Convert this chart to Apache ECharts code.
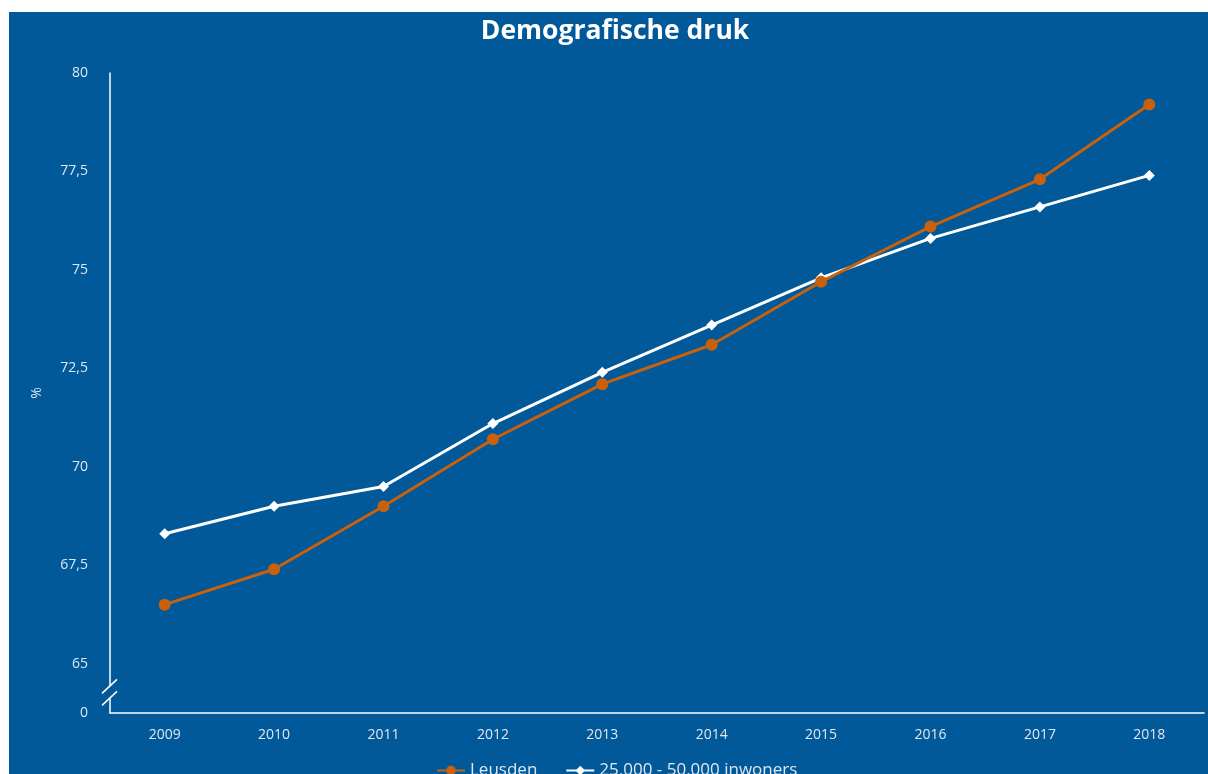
<!DOCTYPE html>
<html><head><meta charset="utf-8">
<script src="https://cdn.jsdelivr.net/npm/echarts@6/dist/echarts.min.js"></script>
<style>
html,body{margin:0;padding:0;background:#fff;width:1208px;height:774px;overflow:hidden;}
#c{position:absolute;left:9px;top:12px;width:1199px;height:762px;}
</style></head><body>
<div id="c"></div>
<script>
var years = ['2009','2010','2011','2012','2013','2014','2015','2016','2017','2018'];
var leusden = [66.5, 67.4, 69.0, 70.7, 72.1, 73.1, 74.7, 76.1, 77.3, 79.2];
var gemeenten = [68.3, 69.0, 69.5, 71.1, 72.4, 73.6, 74.8, 75.8, 76.6, 77.4];
var seriesNames = ['Leusden', '25.000 - 50.000 inwoners'];
var yMin = 63.75, yMax = 80, yStep = 1.25, breakValue = 64.4;

var bg = '#01599a', labelColor = '#dfe7f0', orange = '#c8600c';
var chart = echarts.init(document.getElementById('c'));
var font = "'Open Sans', sans-serif";
chart.setOption({
  backgroundColor: bg,
  textStyle: {fontFamily: font},
  title: {text: 'Demografische druk', left: 601, textAlign: 'center', top: 1,
    textStyle: {color: '#fff', fontSize: 26.5, fontWeight: 'bold', fontFamily: font}},
  legend: {bottom: -10, left: 422, itemGap: 28, itemWidth: 28, itemHeight: 12,
    textStyle: {color: labelColor, fontSize: 17, fontFamily: font},
    data: seriesNames},
  grid: {left: 101, right: 4, top: 61, bottom: 61},
  xAxis: {type: 'category', data: years, boundaryGap: true,
    axisLine: {lineStyle: {color: '#fff', width: 1.5}},
    axisTick: {show: false},
    axisLabel: {color: labelColor, fontSize: 14, margin: 15, fontFamily: font}},
  yAxis: {type: 'value', min: yMin, max: yMax, interval: yStep,
    name: '%', nameLocation: 'middle', nameGap: 66, nameRotate: 90,
    nameTextStyle: {color: labelColor, fontSize: 14, fontFamily: font},
    axisLine: {show: true, lineStyle: {color: '#fff', width: 1.5}},
    axisTick: {show: false}, splitLine: {show: false},
    axisLabel: {color: labelColor, fontSize: 14, margin: 22, fontFamily: font, showMinLabel: true,
      formatter: function (v) {
        if (Math.abs(v - yMin) < 1e-6) return '0';
        if (Math.abs(v / 2.5 - Math.round(v / 2.5)) > 1e-6) return '';
        return String(v).replace('.', ',');
      }}},
  series: [
    {name: seriesNames[0], type: 'line', data: leusden, symbol: 'circle', symbolSize: 12,
      itemStyle: {color: orange}, lineStyle: {color: orange, width: 3}, z: 3},
    {name: seriesNames[1], type: 'line', data: gemeenten, symbol: 'diamond', symbolSize: 11,
      itemStyle: {color: '#fff'}, lineStyle: {color: '#fff', width: 3}, z: 2}
  ]
});
var p0 = chart.convertToPixel({gridIndex: 0}, [0, breakValue]);
var p1 = chart.convertToPixel({gridIndex: 0}, [1, breakValue]);
var ax = p0[0] - (p1[0] - p0[0]) / 2;
var y = p0[1];
chart.setOption({graphic: [
  {type: 'polygon', shape: {points: [[ax-8, y+6], [ax+8, y-8], [ax+8, y+4], [ax-8, y+18]]},
    style: {fill: bg}, z: 100},
  {type: 'line', shape: {x1: ax-8, y1: y+6, x2: ax+7, y2: y-8}, style: {stroke: '#fff', lineWidth: 1.5}, z: 101},
  {type: 'line', shape: {x1: ax-8, y1: y+18, x2: ax+7, y2: y+4}, style: {stroke: '#fff', lineWidth: 1.5}, z: 101}
]});
</script>
</body></html>
